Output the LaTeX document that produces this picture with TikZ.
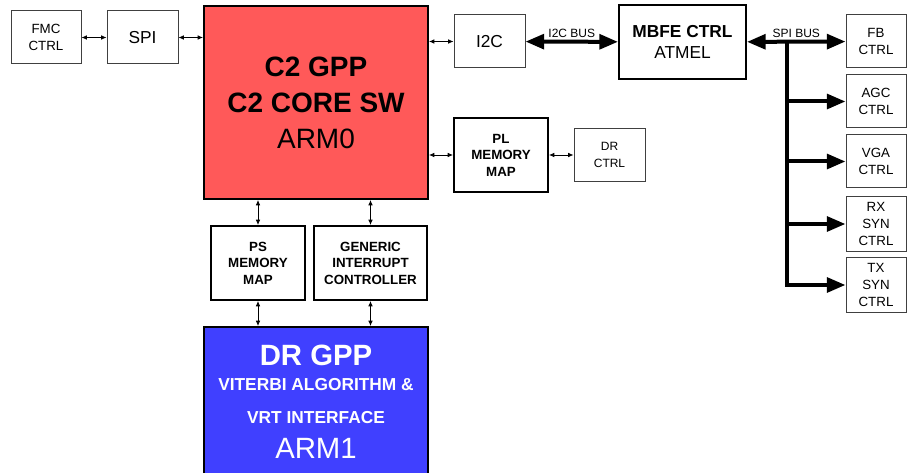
\documentclass[tikz,border=0pt]{standalone}
\usepackage{fontspec}
\setmainfont{Liberation Sans}
\usetikzlibrary{arrows.meta}
\begin{document}
\begin{tikzpicture}[x=0.75pt,y=-0.75pt,>={Latex[length=4pt,width=3.5pt]},
	box/.style 2 args={draw=black!75,line width=0.75pt,minimum width=#1*0.75pt,minimum height=#2*0.75pt,inner sep=0pt,align=center,font=\fontsize{10}{12.5}\selectfont},
	heavy/.style={draw=black,line width=1.5pt},
	link/.style={<->,line width=0.6pt},
	bus/.style={line width=3pt,-{Triangle[length=14pt,width=11pt]}},
	buslabel/.style={font=\fontsize{9}{10}\selectfont,above,inner sep=1.5pt}]
	\clip (0,0) rectangle (907,473);
	% left side
	\node[box={70}{53}] (fmc) at (46,37.5) {FMC\\CTRL};
	\node[box={71}{53},font=\fontsize{13}{15}\selectfont] (spi) at (142.5,37.5) {SPI};
	\node[box={224}{193},heavy,fill={rgb,255:red,255;green,89;blue,89},font=\fontsize{21}{27}\selectfont] (c2) at (316,102.5)
		{\bfseries C2 GPP\\ \bfseries C2 CORE SW\\ ARM0};
	% middle column
	\node[box={71}{53},font=\fontsize{13}{15}\selectfont] (i2c) at (489.5,41.5) {I2C};
	\node[box={127}{74},heavy,font=\fontsize{13}{16}\selectfont] (mbfe) at (682.5,42) {\bfseries MBFE CTRL\\ATMEL};
	\node[box={94}{74},heavy,font=\fontsize{10}{12.4}\selectfont\bfseries] (pl) at (501,155) {PL\\MEMORY\\MAP};
	\node[box={71}{53},font=\fontsize{9}{12.7}\selectfont] (drc) at (609.5,155) {DR\\CTRL};
	% under the C2 GPP
	\node[box={94}{74},heavy,font=\fontsize{10}{12.4}\selectfont\bfseries] (ps) at (258,263) {PS\\MEMORY\\MAP};
	\node[box={113}{74},heavy,font=\fontsize{10}{12.4}\selectfont\bfseries] (gic) at (370.5,263) {GENERIC\\INTERRUPT\\CONTROLLER};
	\node[box={224}{149},heavy,fill={rgb,255:red,64;green,64;blue,255},text=white,font=\fontsize{13}{23}\selectfont] (drgpp) at (316,401.5)
		{\fontsize{22}{23}\selectfont\bfseries DR GPP\\[-4pt] \bfseries VITERBI ALGORITHM \&\\[2pt] \bfseries VRT INTERFACE\\[3pt] \fontsize{22}{23}\selectfont ARM1};
	% right column
	\node[box={60}{53}] (fb) at (876,41.5) {FB\\CTRL};
	\node[box={60}{53}] (agc) at (876,101.5) {AGC\\CTRL};
	\node[box={60}{53}] (vga) at (876,161.5) {VGA\\CTRL};
	\node[box={60}{55}] (rx) at (876,224) {RX\\SYN\\CTRL};
	\node[box={60}{55}] (tx) at (876,285) {TX\\SYN\\CTRL};

	\draw[link] (fmc) -- (spi);
	\draw[link] (spi) -- (spi -| c2.west);
	\draw[link] (c2.east |- i2c) -- (i2c);
	\draw[link] (c2.east |- pl) -- (pl);
	\draw[link] (pl) -- (drc);
	\foreach \m in {ps,gic}{
		\draw[link] (c2.south -| \m) -- (\m);
		\draw[link] (\m) -- (drgpp.north -| \m);
	}
	% buses
	\draw[bus,{Triangle[length=14pt,width=11pt]}-{Triangle[length=14pt,width=11pt]}] (i2c) -- node[buslabel] {I2C BUS} (mbfe);
	\draw[bus,{Triangle[length=14pt,width=11pt]}-{Triangle[length=14pt,width=11pt]}] (mbfe) -- node[buslabel] {SPI BUS} (fb);
	\coordinate (busTop) at (787,42);
	\draw[bus] (busTop) |- (tx.west);
	\foreach \t in {agc,vga,rx}
		\draw[bus] (busTop |- \t.west) -- (\t.west);
\end{tikzpicture}
\end{document}
